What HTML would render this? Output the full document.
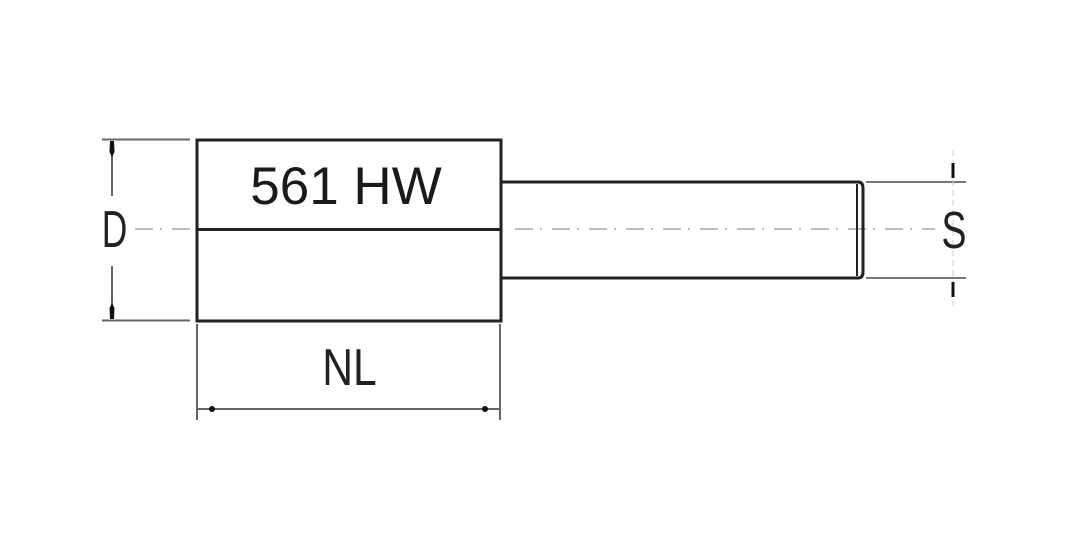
<!DOCTYPE html>
<html><head><meta charset="utf-8"><style>
html,body{margin:0;padding:0;background:#fff;}
svg{display:block;}
</style></head><body>
<svg width="1080" height="540" viewBox="0 0 1080 540" xmlns="http://www.w3.org/2000/svg">
<rect width="1080" height="540" fill="#fff"/>
<!-- center line -->
<g stroke="#bdbdbd" stroke-width="2" fill="none">
<path d="M135 229 H190" stroke-dasharray="18 7 2 10"/>
<path d="M505 229 H935" stroke-dasharray="18 7 2 10" stroke-dashoffset="-10"/>
</g>
<!-- D dimension -->
<g stroke="#666" stroke-width="2" fill="none">
<path d="M102 139.5 H190"/>
<path d="M102 320.5 H190"/>
<path d="M112 141 V196"/>
<path d="M112 266 V319"/>
</g>
<path d="M110 141 L114 141 L114.5 152 L112 157 L109.5 152 Z" fill="#111"/>
<path d="M110 319 L114 319 L114.5 308 L112 303 L109.5 308 Z" fill="#111"/>
<text transform="translate(114.5 247) scale(0.68 1)" text-anchor="middle" font-family="Liberation Sans, sans-serif" font-size="52" fill="#222">D</text>
<!-- head box -->
<g stroke="#222" stroke-width="3" fill="none">
<rect x="197" y="140" width="304" height="181"/>
<path d="M197 229.5 H501"/>
</g>
<text x="346" y="204" text-anchor="middle" font-family="Liberation Sans, sans-serif" font-size="53" fill="#1a1a1a">561 HW</text>
<!-- shank -->
<g stroke="#222" stroke-width="3" fill="none">
<path d="M501 182 H858 Q863 182 863 188 V272 Q863 278 858 278 H501"/>
<path d="M857 184 V276" stroke-width="2"/>
</g>
<!-- NL dimension -->
<g stroke="#666" stroke-width="2" fill="none">
<path d="M197 324 V420"/>
<path d="M500 324 V420"/>
<path d="M198 409 H499"/>
</g>
<circle cx="212" cy="409" r="3" fill="#111"/>
<circle cx="485" cy="409" r="3" fill="#111"/>
<text transform="translate(349.5 385) scale(0.82 1)" text-anchor="middle" font-family="Liberation Sans, sans-serif" font-size="52" fill="#222">NL</text>
<!-- S dimension -->
<g stroke="#777" stroke-width="2" fill="none">
<path d="M866 182 H966"/>
<path d="M866 278 H966"/>
</g>
<path d="M953 150 V310" stroke="#ccc" stroke-width="1" stroke-dasharray="6 4" fill="none"/>
<path d="M953 163 V178" stroke="#111" stroke-width="3"/>
<path d="M953 282 V297" stroke="#111" stroke-width="3"/>
<text transform="translate(954 248) scale(0.72 1)" text-anchor="middle" font-family="Liberation Sans, sans-serif" font-size="52" fill="#222">S</text>
</svg>
</body></html>
